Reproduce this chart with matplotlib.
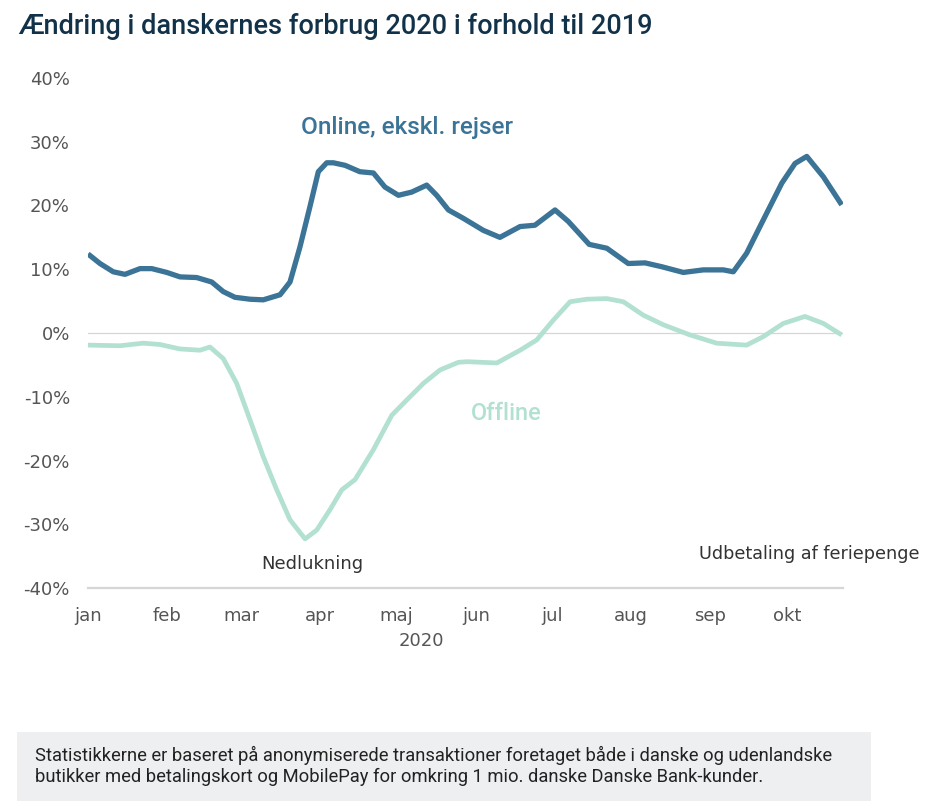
import matplotlib
matplotlib.use("Agg")
import matplotlib.pyplot as plt
from matplotlib.patches import Rectangle

# ---- data (day of year 2020, % change vs 2019) ----
online_days = [0, 4.7, 9.9, 14.5, 20.4, 25.0, 30.9, 36.1, 42.6, 48.5, 53.0, 57.6, 63.5,
               68.7, 75.3, 79.2, 83.1, 87.0, 90.3, 93.6, 96.2, 100.8, 106.6, 111.9,
               116.4, 121.7, 126.9, 132.8, 136.7, 141.3, 147.1, 155.0, 161.5, 169.4,
               175.2, 183.1, 188.3, 196.5, 203.4, 211.8, 218.4, 224.9, 233.4, 241.2,
               249.1, 253.0, 258.2, 264.7, 272.0, 277.2, 281.8, 288.3, 295.5]
online_vals = [12.4, 10.9, 9.6, 9.2, 10.1, 10.1, 9.5, 8.8, 8.7, 8.0, 6.5, 5.6, 5.3,
               5.2, 6.0, 8.0, 13.5, 19.8, 25.3, 26.7, 26.7, 26.3, 25.3, 25.1,
               22.9, 21.6, 22.1, 23.2, 21.6, 19.3, 18.0, 16.1, 15.0, 16.7,
               16.9, 19.3, 17.5, 13.9, 13.3, 10.9, 11.0, 10.4, 9.5, 9.9,
               9.9, 9.6, 12.5, 17.7, 23.5, 26.6, 27.7, 24.5, 20.1]

offline_days = [0, 12.5, 21.6, 28.2, 36.0, 43.9, 47.8, 53.0, 58.3, 63.5, 68.7, 74.0,
                79.2, 85.1, 89.7, 94.9, 99.5, 104.7, 111.9, 119.1, 125.0, 131.5, 138.0,
                145.2, 148.6, 160.3, 169.4, 175.9, 182.4, 189.0, 195.5, 203.4, 209.9,
                217.7, 225.5, 236.0, 246.5, 258.2, 264.6, 272.6, 281.1, 288.3, 295.5]
offline_vals = [-1.9, -2.0, -1.6, -1.8, -2.5, -2.7, -2.2, -4.0, -7.9, -13.6, -19.4, -24.6,
                -29.3, -32.3, -30.9, -27.7, -24.6, -23.0, -18.3, -12.9, -10.5, -7.9, -5.8,
                -4.6, -4.5, -4.7, -2.7, -1.1, 2.0, 4.9, 5.3, 5.4, 4.9,
                2.8, 1.3, -0.3, -1.6, -1.9, -0.6, 1.5, 2.6, 1.5, -0.3]

month_days = [0, 31, 60, 91, 121, 152, 182, 213, 244, 274]
month_labels = ["jan", "feb", "mar", "apr", "maj", "jun", "jul", "aug", "sep", "okt"]
y_ticks = [-40, -30, -20, -10, 0, 10, 20, 30, 40]
y_labels = ["-40%", "-30%", "-20%", "-10%", "0%", "10%", "20%", "30%", "40%"]

title = "Ændring i danskernes forbrug 2020 i forhold til 2019"
footer = ("Statistikkerne er baseret på anonymiserede transaktioner foretaget både i danske og udenlandske\n"
          "butikker med betalingskort og MobilePay for omkring 1 mio. danske Danske Bank-kunder.")

ONLINE = "#3b7496"
OFFLINE = "#b2e0d1"
TICK = "#555555"

plt.rcParams['font.family'] = ['Roboto', 'DejaVu Sans']
SANS2 = ['DejaVu Sans']

W, H = 944, 802
fig = plt.figure(figsize=(W / 100, H / 100), dpi=100)

ax = fig.add_axes([88 / W, 1 - 588 / H, (843 - 88) / W, (588 - 78) / H])
ax.plot(offline_days, offline_vals, color=OFFLINE, lw=3.4, solid_capstyle='butt',
        solid_joinstyle='round', zorder=3)
ax.plot(online_days, online_vals, color=ONLINE, lw=3.8, solid_capstyle='butt',
        solid_joinstyle='round', zorder=4)

ax.set_xlim(0, 296)
ax.set_ylim(-40, 40)
ax.axhline(0, color="#d6d6d6", lw=0.9, zorder=1)
ax.axhline(-40, color="#d6d6d6", lw=1.6, zorder=1, clip_on=False)
for s in ax.spines.values():
    s.set_visible(False)
ax.set_yticks(y_ticks)
ax.set_yticklabels(y_labels, family=SANS2)
ax.set_xticks(month_days)
ax.set_xticklabels(month_labels, family=SANS2)
ax.tick_params(axis='both', length=0, labelsize=13, colors=TICK)
ax.tick_params(axis='y', pad=13)
ax.tick_params(axis='x', pad=14)

# annotations
ax.text(125, 32.2, "Online, ekskl. rejser", color=ONLINE, fontsize=17.5,
        fontweight='medium', ha='center', va='center')
ax.text(164, -12.6, "Offline", color=OFFLINE, fontsize=17, fontweight='medium',
        ha='center', va='center')
ax.text(88, -36.3, "Nedlukning", color="#333333", fontsize=13, ha='center',
        va='center', family=SANS2)
ax.text(326, -34.6, "Udbetaling af feriepenge", color="#333333", fontsize=12.7,
        ha='right', va='center', clip_on=False, family=SANS2)

fig.text(421 / W, 1 - 641 / H, "2020", color=TICK, fontsize=13, ha='center',
         va='center', family=SANS2)

fig.text(18 / W, 1 - 26 / H, title, color="#12324a", fontsize=19.5, fontweight='medium',
         ha='left', va='center')

fig.patches.append(Rectangle((17 / W, 1 - 801 / H), (871 - 17) / W, (801 - 732) / H,
                             transform=fig.transFigure, facecolor="#eeeff1",
                             edgecolor='none', zorder=0))
fig.text(35 / W, 1 - 766 / H, footer, color="#222222", fontsize=13.2, ha='left',
         va='center', linespacing=1.2)

fig.savefig("out.png", dpi=100)
